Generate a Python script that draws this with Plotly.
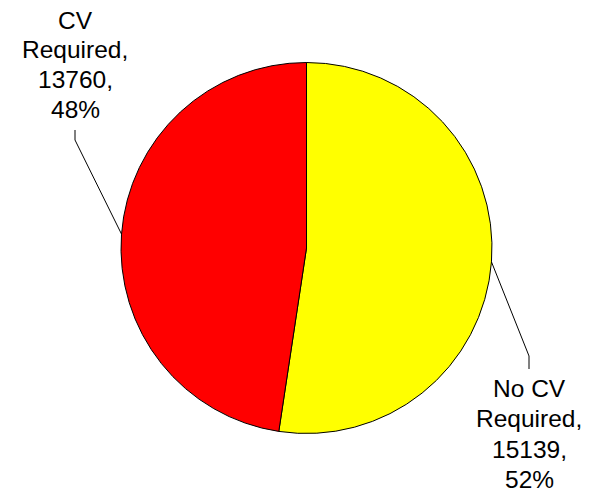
import math
import plotly.graph_objects as go

labels = ["No CV Required", "CV Required"]
values = [15139, 13760]
colors = ["#FFFF00", "#FF0000"]

W, H = 592, 494
OFF = 8  # default page body margin; convert screen px -> figure px
cx, cy, r = 306.5, 248.0, 185.5  # pie centre / radius in screen pixels

def fx(x):
    return (x - OFF) / W

def fy(y):
    return 1 - (y - OFF) / H

fig = go.Figure(go.Pie(
    labels=labels, values=values, sort=False, direction="clockwise", rotation=0,
    marker=dict(colors=colors, line=dict(color="#000000", width=1)),
    textinfo="none", hoverinfo="label+value+percent", showlegend=False,
    domain=dict(x=[fx(cx - r), fx(cx + r)], y=[fy(cy + r), fy(cy - r)]),
))

total = sum(values)
label_pos = {  # label centre x, first baseline y, line step, elbow x, elbow y, end y
    "CV Required": (75, 28.5, 29.7, 75, 140, 130),
    "No CV Required": (529, 397, 30.3, 529, 356, 369),
}
shapes, annotations = [], []
cum = 0
for lab, v in zip(labels, values):
    mid = (cum + v / 2) / total * 2 * math.pi
    cum += v
    px = cx + r * math.sin(mid)
    py = cy - r * math.cos(mid)
    lx, b0, step, ex, ey, endy = label_pos[lab]
    P = lambda x, y: f"{fx(x):.5f},{fy(y):.5f}"
    shapes.append(dict(type="path", xref="paper", yref="paper",
                       path=f"M {P(px, py)} L {P(ex, ey)} L {P(ex, endy)}",
                       line=dict(color="#000000", width=1)))
    pct = round(v / total * 100)
    words = lab.split(" ")
    lines = [" ".join(words[:-1]), words[-1] + ",", f"{v},", f"{pct}%"]
    for i, t in enumerate(lines):
        base = b0 + i * step
        annotations.append(dict(x=fx(lx), y=fy(base - 8.5), xref="paper", yref="paper",
                                text=t, showarrow=False, xanchor="center", yanchor="middle",
                                align="center",
                                font=dict(family="Liberation Sans, Arial", size=24.5,
                                          color="#000000")))

fig.update_layout(width=W, height=H, margin=dict(l=0, r=0, t=0, b=0),
                  paper_bgcolor="white", plot_bgcolor="white",
                  shapes=shapes, annotations=annotations)
fig.write_html("out.html")
